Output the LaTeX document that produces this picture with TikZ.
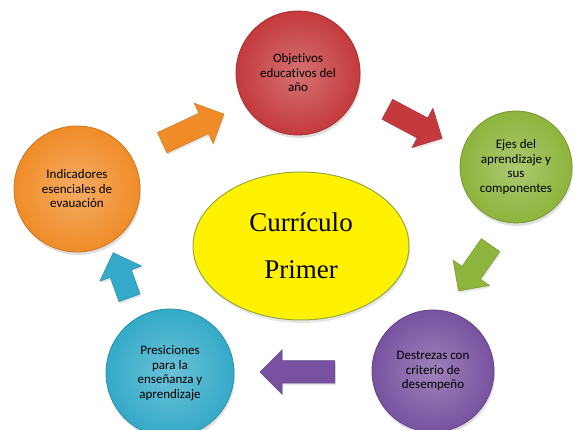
\documentclass[tikz,border=0pt]{standalone}
\usepackage{fontspec}
\newfontfamily\calibri[Ligatures=NoCommon]{Carlito}
\newfontfamily\cambria{Liberation Serif}
\usetikzlibrary{shapes.geometric,shapes.arrows,shadows,positioning}
\definecolor{rojo}{RGB}{196,58,60}
\definecolor{verde}{RGB}{141,180,60}
\definecolor{morado}{RGB}{120,82,160}
\definecolor{celeste}{RGB}{52,170,200}
\definecolor{naranja}{RGB}{240,140,40}
\definecolor{borde}{RGB}{150,170,60}
\tikzset{ball/.style={circle,inner color=#1!72!white,outer color=#1,draw=#1!85!black,
                line width=0.8pt,align=center,text=black,
                font=\calibri\fontsize{13}{14.5}\selectfont,
                drop shadow={opacity=0.25,shadow xshift=1pt,shadow yshift=-3pt}},
         flecha/.style={single arrow,fill=#1,draw=#1!85!black,line width=0.5pt,
                inner xsep=0pt,inner ysep=11pt,minimum width=44pt,
                single arrow head extend=11pt,
                drop shadow={opacity=0.2,shadow xshift=1pt,shadow yshift=-2pt}}}
\tikzstyle{yema}=[ellipse,fill=yellow,draw=borde,line width=1pt,minimum width=216pt,
                minimum height=148pt,align=center,font=\cambria\fontsize{27}{47}\selectfont,
                drop shadow={opacity=0.2,shadow xshift=1pt,shadow yshift=-3pt}]

\begin{document}
\begin{tikzpicture}[x=1pt,y=-1pt]
\useasboundingbox (0,0) rectangle (573,430);
\node[yema] (curr) at (301,246) {Currículo\\Primer};
\node[ball=rojo,minimum size=124pt] (obj) at (298,73) {Objetivos\\educativos del\\año};
\node[ball=verde,minimum size=112pt] (ejes) at (516,167) {Ejes del\\aprendizaje y\\sus\\componentes};
\node[ball=morado,minimum size=122pt] (destr) at (433,371) {Destrezas con\\criterio de\\desempeño};
\node[ball=celeste,minimum size=128pt] (presic) at (170,373) {Presiciones\\para la\\enseñanza y\\aprendizaje};
\node[ball=naranja,minimum size=126pt] (indic) at (77,189) {Indicadores\\esenciales de\\evauación};
% flechas del ciclo
\path (indic) -- node[flecha=naranja,minimum height=68pt,rotate=25] (f1) {} (obj);
\path (obj) -- node[flecha=rojo,minimum height=62pt,rotate=-28] (f2) {} (ejes);
\path (ejes) -- node[flecha=verde,minimum height=56pt,rotate=-125,xshift=-4pt] (f3) {} (destr);
\path (destr) -- node[flecha=morado,minimum height=75pt,rotate=180] (f4) {} (presic);
\path (presic) -- node[flecha=celeste,minimum height=48pt,minimum width=40pt,rotate=110] (f5) {} (indic);
\end{tikzpicture}
\end{document}
